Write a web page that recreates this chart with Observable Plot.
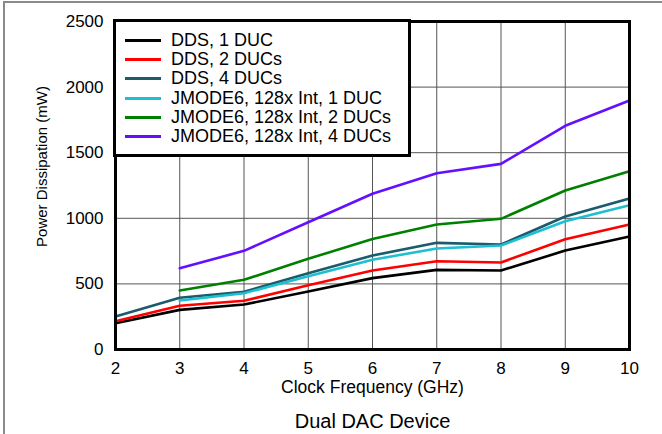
<!DOCTYPE html>
<html>
<head>
<meta charset="utf-8">
<script src="https://cdn.jsdelivr.net/npm/d3@7"></script>
<script src="https://cdn.jsdelivr.net/npm/@observablehq/plot@0.6"></script>
<style>
  html, body { margin: 0; padding: 0; background: #fff; overflow: hidden; }
  body { width: 662px; height: 434px; position: relative; font-family: "Liberation Sans", Arial, sans-serif; }
  #outer { position: absolute; left: 3px; top: 1px; width: 700px; height: 500px; border-top: 2px solid #8a8a8a; border-left: 2px solid #8a8a8a; pointer-events: none; }
  #chart { position: absolute; left: 0; top: 0; }
  #legend { position: absolute; left: 113px; top: 19px; width: 298px; height: 138px; box-sizing: border-box; border: 3px solid #000; background: #fff; padding-top: 9px; }
  .row { height: 19.2px; display: flex; align-items: center; font-size: 18px; color: #000; white-space: nowrap; }
  .sw { width: 36px; height: 3px; margin-left: 9px; margin-right: 10px; flex: none; }
</style>
</head>
<body>
<div id="chart"></div>
<div id="legend"></div>
<div id="outer"></div>
<script>
const freqs = [2, 3, 4, 5, 6, 7, 8, 9, 10];
const seriesNames = [
  "DDS, 1 DUC",
  "DDS, 2 DUCs",
  "DDS, 4 DUCs",
  "JMODE6, 128x Int, 1 DUC",
  "JMODE6, 128x Int, 2 DUCs",
  "JMODE6, 128x Int, 4 DUCs"
];
const seriesColors = ["#000000", "#ff0000", "#1a5c6c", "#1dbfd0", "#008000", "#6410ff"];
const dds1 = [200, 302, 343, 442, 544, 607, 602, 754, 861];
const dds2 = [216, 333, 371, 490, 602, 673, 663, 841, 953];
const dds4 = [251, 394, 440, 582, 716, 813, 800, 1014, 1151];
const jm1 = [null, 373, 429, 559, 684, 770, 793, 978, 1100];
const jm2 = [null, 450, 531, 691, 843, 953, 996, 1212, 1359];
const jm4 = [null, 620, 752, 970, 1187, 1344, 1415, 1705, 1898];
const xTicks = [2, 3, 4, 5, 6, 7, 8, 9, 10];
const yTicks = [0, 500, 1000, 1500, 2000, 2500];
const xLabel = "Clock Frequency (GHz)";
const yLabel = "Power Dissipation (mW)";
const caption = "Dual DAC Device";

const allSeries = [dds1, dds2, dds4, jm1, jm2, jm4];
const rows = [];
allSeries.forEach((vals, si) => {
  vals.forEach((v, i) => {
    if (v != null) rows.push({series: seriesNames[si], freq: freqs[i], power: v});
  });
});

const font = "'Liberation Sans', Arial, sans-serif";
const chart = Plot.plot({
  width: 662,
  height: 434,
  marginLeft: 115,
  marginRight: 33,
  marginTop: 21,
  marginBottom: 85,
  style: {fontFamily: font, fontSize: "17px", color: "#000", background: "transparent"},
  x: {domain: [2, 10], ticks: xTicks, tickSize: 0, tickPadding: 12, label: null, tickFormat: d => String(d)},
  y: {domain: [0, 2500], ticks: yTicks, tickSize: 0, tickPadding: 12, label: null, tickFormat: d => String(d)},
  color: {domain: seriesNames, range: seriesColors},
  marks: [
    Plot.gridX(xTicks.slice(1, -1), {stroke: "#555", strokeOpacity: 1, strokeWidth: 1}),
    Plot.gridY(yTicks.slice(1, -1), {stroke: "#555", strokeOpacity: 1, strokeWidth: 1}),
    Plot.line(rows, {x: "freq", y: "power", z: "series", stroke: "series", strokeWidth: 2.6}),
    Plot.frame({stroke: "#000", strokeWidth: 3}),
    Plot.text([xLabel], {text: d => d, frameAnchor: "bottom", lineAnchor: "middle", dy: 38, fontSize: 17.5, fill: "#000"}),
    Plot.text([caption], {text: d => d, frameAnchor: "bottom", lineAnchor: "middle", dy: 72, fontSize: 20, fill: "#000"}),
    Plot.text([yLabel], {text: d => d, frameAnchor: "left", textAnchor: "middle", lineAnchor: "middle", dx: -73, dy: -19, rotate: -90, fontSize: 15, fill: "#000"})
  ]
});
document.getElementById("chart").appendChild(chart);

const legend = document.getElementById("legend");
seriesNames.forEach((name, i) => {
  const row = document.createElement("div");
  row.className = "row";
  const sw = document.createElement("span");
  sw.className = "sw";
  sw.style.background = seriesColors[i];
  const t = document.createElement("span");
  t.textContent = name;
  row.appendChild(sw);
  row.appendChild(t);
  legend.appendChild(row);
});
</script>
</body>
</html>
